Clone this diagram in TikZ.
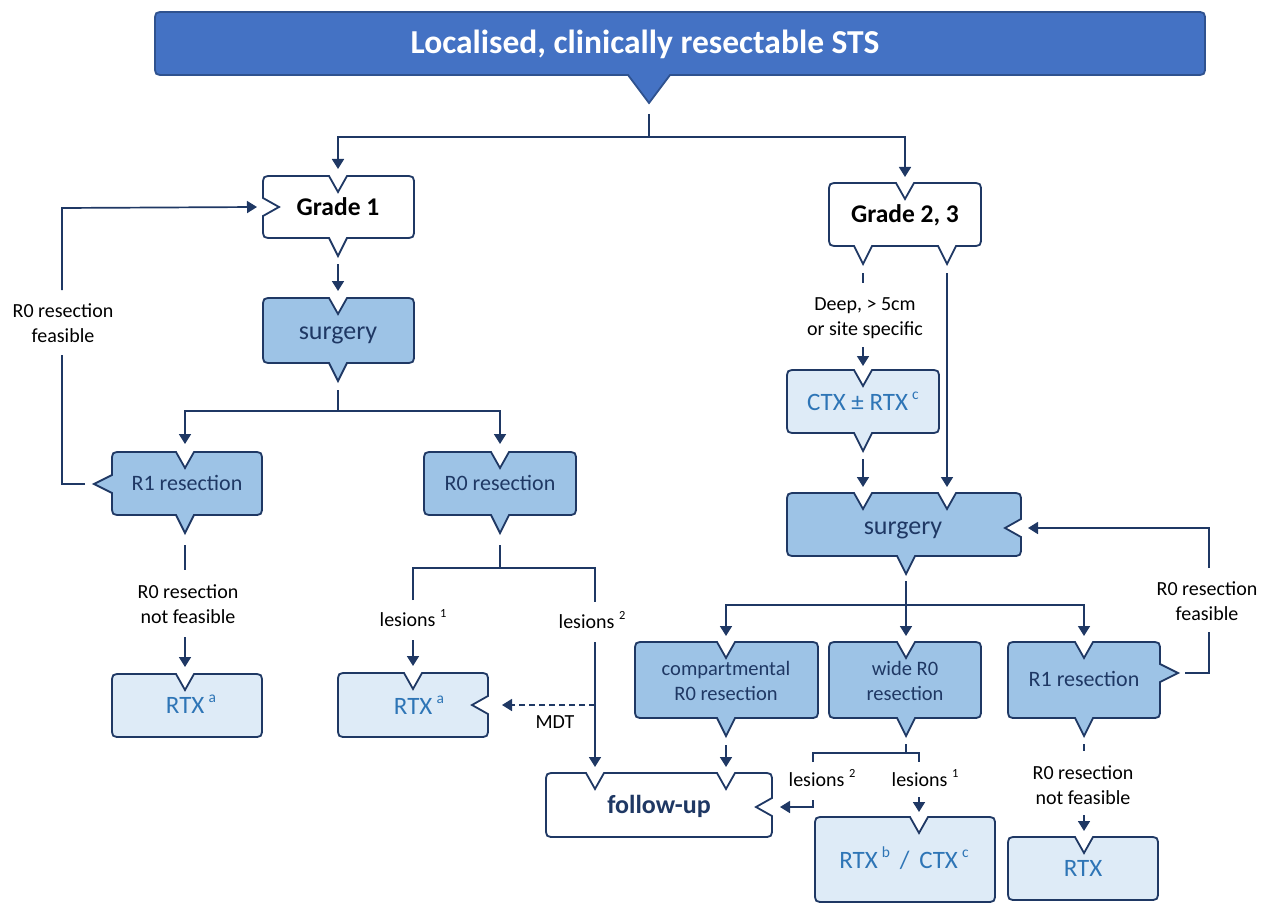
\documentclass[tikz,border=0pt]{standalone}
\usepackage{fontspec}
\setmainfont{Carlito}
\usetikzlibrary{arrows.meta}
\definecolor{navy}{HTML}{1F3864}
\definecolor{midfill}{HTML}{9DC3E6}
\definecolor{lightfill}{HTML}{DEEBF7}
\definecolor{bluetxt}{HTML}{2E75B6}
\definecolor{bannerfill}{HTML}{4472C4}
\definecolor{bannerline}{HTML}{2F528F}
\newcommand\NW{9}
\newcommand\ND{16}
\newcommand\PD{18}
\newcommand\RR{10}
\newcommand\TN[2]{-- ({#1-\NW},#2) -- (#1,{#2+\ND}) -- ({#1+\NW},#2)}
\newcommand\BP[2]{-- ({#1+\NW},#2) -- (#1,{#2+\PD}) -- ({#1-\NW},#2)}
\newcommand\RN[2]{-- (#1,{#2-\NW}) -- ({#1-\ND},#2) -- (#1,{#2+\NW})}
\newcommand\RP[2]{-- (#1,{#2-\NW}) -- ({#1+\PD},#2) -- (#1,{#2+\NW})}
\newcommand\LN[2]{-- (#1,{#2+\NW}) -- ({#1+\ND},#2) -- (#1,{#2-\NW})}
\newcommand\LP[2]{-- (#1,{#2+\NW}) -- ({#1-\PD},#2) -- (#1,{#2-\NW})}
\newcommand\cbox[9]{%
\path[#1] (#2,{#3+\RR}) .. controls (#2,#3) .. ({#2+\RR},#3) #6 -- ({#4-\RR},#3) .. controls (#4,#3) .. (#4,{#3+\RR}) #7 -- (#4,{#5-\RR}) .. controls (#4,#5) .. ({#4-\RR},#5) #8 -- ({#2+\RR},#5) .. controls (#2,#5) .. (#2,{#5-\RR}) #9 -- cycle;}
\newcommand\supx[1]{\raisebox{0.45em}{\scalebox{0.62}{#1}}}
\begin{document}
\begin{tikzpicture}[x=1pt,y=-1pt,
  box/.style={draw=navy, line width=1.8pt, line join=miter},
  midbox/.style={box, fill=midfill},
  lightbox/.style={box, fill=lightfill},
  whitebox/.style={box, fill=white},
  bannerbox/.style={draw=bannerline, line width=1.8pt, fill=bannerfill},
  conn/.style={draw=navy, line width=1.7pt},
  arr/.style={conn, -{Triangle[length=10pt,width=12pt]}},
  dasharr/.style={arr, dash pattern=on 6pt off 4pt},
  txt/.style={inner sep=0pt, align=center},
  ttl/.style={txt, text=white, font=\fontsize{33.5}{40}\selectfont\bfseries, text height=23.5pt, text depth=6.7pt},
  gr/.style={txt, text=black, font=\fontsize{25.5}{30}\selectfont\bfseries, text height=17.9pt, text depth=5.1pt},
  nvbig/.style={txt, text=navy, font=\fontsize{26}{30}\selectfont, text height=18.2pt, text depth=5.2pt},
  nv/.style={txt, text=navy, font=\fontsize{22}{26}\selectfont, text height=15.4pt, text depth=4.4pt},
  nvsm/.style={txt, text=navy, font=\fontsize{20.5}{25}\selectfont, text depth=4.1pt},
  bl/.style={txt, text=bluetxt, font=\fontsize{25}{30}\selectfont, text height=17.5pt, text depth=5pt},
  fu/.style={txt, text=navy, font=\fontsize{26}{30}\selectfont\bfseries, text height=18.2pt, text depth=5.2pt},
  lbl/.style={txt, text=black, font=\fontsize{20}{25}\selectfont, text height=14pt, text depth=4pt},
  lbltwo/.style={txt, text=black, font=\fontsize{20}{25}\selectfont, text depth=4pt},
]
\useasboundingbox (0,0) rectangle (1261,904);

% ---------- boxes ----------
\cbox{bannerbox}{155}{12}{1205}{75}{}{}{-- (670,75) -- (649,103) -- (628,75)}{}
\cbox{whitebox}{263}{176}{414}{238}{\TN{338}{176}}{}{\BP{338}{238}}{\LN{263}{207}}
\cbox{midbox}{263}{298}{414}{363}{\TN{338}{298}}{}{\BP{338}{363}}{}
\cbox{midbox}{112}{452}{262}{515}{\TN{185}{452}}{}{\BP{185}{515}}{\LP{112}{484}}
\cbox{midbox}{424}{452}{576}{515}{\TN{500}{452}}{}{\BP{500}{515}}{}
\cbox{lightbox}{112}{674}{262}{737}{\TN{185}{674}}{}{}{}
\cbox{lightbox}{338}{673}{488}{737}{\TN{413}{673}}{\RN{488}{705}}{}{}
\cbox{whitebox}{546}{773}{772}{837}{\TN{595}{773}\TN{726}{773}}{\RN{772}{807}}{}{}
\cbox{whitebox}{829}{183}{981}{246}{\TN{905}{183}}{}{\BP{947}{246}\BP{863}{246}}{}
\cbox{lightbox}{787}{370}{939}{433}{\TN{863}{370}}{}{\BP{863}{433}}{}
\cbox{midbox}{787}{493}{1021}{556}{\TN{863}{493}\TN{947}{493}}{\RN{1021}{528}}{\BP{906}{556}}{}
\cbox{midbox}{635}{642}{818}{718}{\TN{726}{642}}{}{\BP{726}{718}}{}
\cbox{midbox}{829}{642}{981}{718}{\TN{906}{642}}{}{\BP{906}{718}}{}
\cbox{midbox}{1008}{642}{1160}{718}{\TN{1084}{642}}{\RP{1160}{673}}{\BP{1084}{718}}{}
\cbox{lightbox}{815}{817}{995}{902}{\TN{919}{817}}{}{}{}
\cbox{lightbox}{1008}{837}{1158}{900}{\TN{1084}{837}}{}{}{}

% ---------- texts ----------
\node[ttl] (banner) at (645,45) {Localised, clinically resectable STS};
\node[gr] (g1) at (338,209) {Grade 1};
\node[nvbig] (s1) at (338,333) {surgery};
\node[nv] (r1L) at (187,485) {R1 resection};
\node[nv] (r0L) at (500,485) {R0 resection};
\node[bl] (rtxa1) at (191,707) {RTX\,\supx{a}};
\node[bl] (rtxa2) at (419,708) {RTX\,\supx{a}};
\node[fu] (fu) at (659,807) {follow-up};
\node[gr] (g23) at (905,216) {Grade 2, 3};
\node[bl] (ctx) at (863,404) {CTX ± RTX\,\supx{c}};
\node[nvbig] (s2) at (903,528) {surgery};
\node[nvsm] (comp) at (726,683) {compartmental\\R0 resection};
\node[nvsm] (wide) at (905,683) {wide R0\\resection};
\node[nv] (r1R) at (1084,681) {R1 resection};
\node[bl] (rtxbc) at (904,862) {RTX\,\supx{b}\, /\, CTX\,\supx{c}};
\node[bl] (rtx) at (1083,870) {RTX};

\node[lbltwo] (feasL) at (63,325) {R0 resection\\feasible};
\node[lbltwo] (nfL) at (188,606) {R0 resection\\not feasible};
\node[lbl] (les1a) at (413,621) {lesions \supx{1}};
\node[lbl] (les2a) at (592,623) {lesions \supx{2}};
\node[lbl] (mdt) at (555,723) {MDT};
\node[lbltwo] (deep) at (865,319) {Deep, > 5cm\\or site specific};
\node[lbltwo] (feasR) at (1207,603) {R0 resection\\feasible};
\node[lbl] (les2b) at (822,781) {lesions \supx{2}};
\node[lbl] (les1b) at (925,781) {lesions \supx{1}};
\node[lbltwo] (nfR) at (1083,787) {R0 resection\\not feasible};

% ---------- connector points ----------
\coordinate (banOut) at (649,114);
\coordinate (split1) at (649,137);
\coordinate (g1In) at (338,169);
\coordinate (g23In) at (905,177);
\coordinate (g1Out) at (338,264);
\coordinate (s1In) at (338,291);
\coordinate (s1Out) at (338,390);
\coordinate (split2) at (338,411);
\coordinate (r1LIn) at (185,444);
\coordinate (r0LIn) at (500,444);
\coordinate (r1LOut) at (85,484);
\coordinate (loopL) at (62,484);
\coordinate (loopLa) at (62,355);
\coordinate (loopLb) at (62,290);
\coordinate (loopLtop) at (62,208);
\coordinate (g1Left) at (257,207);
\coordinate (r1LDown) at (185,545);
\coordinate (r1LDa) at (185,570);
\coordinate (r1LDb) at (185,637);
\coordinate (rtxa1In) at (185,667);
\coordinate (r0LDown) at (500,545);
\coordinate (brL) at (413,568);
\coordinate (brM) at (500,568);
\coordinate (brR) at (595,568);
\coordinate (l1a) at (413,600);
\coordinate (l1b) at (413,640);
\coordinate (rtxa2In) at (413,666);
\coordinate (l2a) at (595,602);
\coordinate (l2b) at (595,642);
\coordinate (mdtStart) at (595,705);
\coordinate (rtxa2Right) at (502,705);
\coordinate (fuInA) at (595,767);
% right
\coordinate (g23OutA) at (863,273);
\coordinate (g23OutAb) at (863,283);
\coordinate (deepB) at (863,347);
\coordinate (ctxIn) at (863,366);
\coordinate (g23OutB) at (947,273);
\coordinate (s2InB) at (947,487);
\coordinate (ctxOut) at (863,459);
\coordinate (s2InA) at (863,487);
\coordinate (s2Out) at (906,581);
\coordinate (split3) at (906,605);
\coordinate (compIn) at (726,636);
\coordinate (wideIn) at (906,636);
\coordinate (r1RIn) at (1084,636);
\coordinate (r1ROut) at (1185,673);
\coordinate (loopR) at (1209,673);
\coordinate (loopRa) at (1209,632);
\coordinate (loopRb) at (1209,568);
\coordinate (loopRtop) at (1209,528);
\coordinate (s2Right) at (1028,528);
\coordinate (compOut) at (726,745);
\coordinate (fuInB) at (726,767);
\coordinate (wideOut) at (906,744);
\coordinate (br2M) at (906,753);
\coordinate (br2L) at (813,753);
\coordinate (br2R) at (919,753);
\coordinate (br2La) at (813,762);
\coordinate (br2Lb) at (813,800);
\coordinate (br2Lc) at (813,807);
\coordinate (fuRight) at (780,807);
\coordinate (br2Ra) at (919,762);
\coordinate (br2Rb) at (919,797);
\coordinate (rtxbcIn) at (919,812);
\coordinate (r1ROutD) at (1084,744);
\coordinate (r1RDa) at (1084,751);
\coordinate (r1RDb) at (1084,815);
\coordinate (rtxIn) at (1084,831);

% ---------- connectors ----------
\draw[conn] (banOut) -- (split1);
\draw[arr] (split1) -| (g1In);
\draw[arr] (split1) -| (g23In);
\draw[arr] (g1Out) -- (s1In);
\draw[conn] (s1Out) -- (split2);
\draw[arr] (split2) -| (r1LIn);
\draw[arr] (split2) -| (r0LIn);
\draw[conn] (r1LOut) -- (loopL) -- (loopLa);
\draw[arr] (loopLb) -- (loopLtop) -- (g1Left);
\draw[conn] (r1LDown) -- (r1LDa);
\draw[arr] (r1LDb) -- (rtxa1In);
\draw[conn] (r0LDown) -- (brM);
\draw[conn] (l1a) -- (brL) -- (brR) -- (l2a);
\draw[arr] (l1b) -- (rtxa2In);
\draw[arr] (l2b) -- (fuInA);
\draw[dasharr] (mdtStart) -- (rtxa2Right);
\draw[conn] (g23OutA) -- (g23OutAb);
\draw[arr] (deepB) -- (ctxIn);
\draw[arr] (g23OutB) -- (s2InB);
\draw[arr] (ctxOut) -- (s2InA);
\draw[conn] (s2Out) -- (split3);
\draw[arr] (split3) -| (compIn);
\draw[arr] (split3) -- (wideIn);
\draw[arr] (split3) -| (r1RIn);
\draw[conn] (r1ROut) -- (loopR) -- (loopRa);
\draw[arr] (loopRb) -- (loopRtop) -- (s2Right);
\draw[arr] (compOut) -- (fuInB);
\draw[conn] (wideOut) -- (br2M);
\draw[conn] (br2La) -- (br2L) -- (br2R) -- (br2Ra);
\draw[arr] (br2Lb) -- (br2Lc) -- (fuRight);
\draw[arr] (br2Rb) -- (rtxbcIn);
\draw[conn] (r1ROutD) -- (r1RDa);
\draw[arr] (r1RDb) -- (rtxIn);
\end{tikzpicture}
\end{document}
